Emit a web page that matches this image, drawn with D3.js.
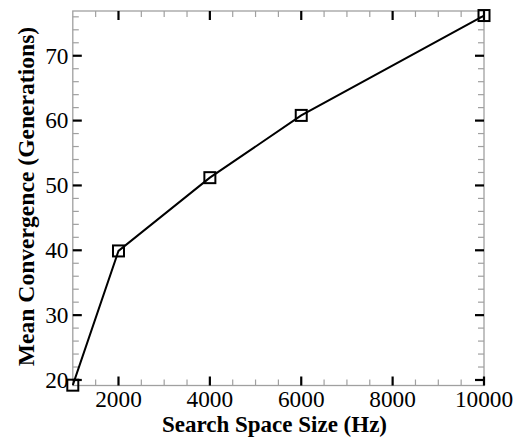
<!DOCTYPE html>
<html>
<head>
<meta charset="utf-8">
<script src="https://cdn.jsdelivr.net/npm/d3@7"></script>
<style>
  html, body { margin: 0; padding: 0; background: #fff; }
  svg { display: block; }
  text { font-family: "Liberation Serif", "Times New Roman", serif; fill: #000; }
</style>
</head>
<body>
<svg id="chart" width="515" height="438"></svg>
<script>
// Search space size (Hz) vs. mean generations to converge
const sizes = [1000, 2000, 4000, 6000, 10000];
const meanGenerations = [19.2, 39.9, 51.2, 60.8, 76.2];
const xTickValues = [2000, 4000, 6000, 8000, 10000];
const yTickValues = [20, 30, 40, 50, 60, 70];
const xLabel = "Search Space Size (Hz)";
const yLabel = "Mean Convergence (Generations)";

const svg = d3.select("#chart");
const plotL = 72.8, plotR = 484, plotT = 11, plotB = 385.5;

const x = d3.scaleLinear().domain([1000, 10000]).range([plotL, plotR]);
const y = d3.scaleLinear().domain([19.15, 76.9]).range([plotB, plotT]);

const frameColor = "#a0a0a0";
const minorColor = "#a0a0a0";

// minor ticks
const xMinor = d3.range(1500, 10000, 500).filter(v => v % 2000 !== 0);
const yMinor = d3.range(20, 77, 2).filter(v => v % 10 !== 0);
const minorLen = 6, majorLen = 9;

const g = svg.append("g");

// plot frame
g.append("rect")
  .attr("x", plotL).attr("y", plotT)
  .attr("width", plotR - plotL).attr("height", plotB - plotT)
  .attr("fill", "none").attr("stroke", frameColor).attr("stroke-width", 1.3);

// ticks on all four sides, pointing inward
function tickLinesX(vals, len, color, w) {
  vals.forEach(v => {
    const xv = x(v);
    g.append("line").attr("x1", xv).attr("x2", xv).attr("y1", plotB).attr("y2", plotB - len)
      .attr("stroke", color).attr("stroke-width", w);
    g.append("line").attr("x1", xv).attr("x2", xv).attr("y1", plotT).attr("y2", plotT + len)
      .attr("stroke", color).attr("stroke-width", w);
  });
}
function tickLinesY(vals, len, color, w) {
  vals.forEach(v => {
    const yv = y(v);
    g.append("line").attr("y1", yv).attr("y2", yv).attr("x1", plotL).attr("x2", plotL + len)
      .attr("stroke", color).attr("stroke-width", w);
    g.append("line").attr("y1", yv).attr("y2", yv).attr("x1", plotR).attr("x2", plotR - len)
      .attr("stroke", color).attr("stroke-width", w);
  });
}
tickLinesX(xMinor, minorLen, minorColor, 1.2);
tickLinesY(yMinor, minorLen, minorColor, 1.2);
tickLinesX(xTickValues, majorLen, "#000", 2.2);
tickLinesY(yTickValues, majorLen, "#000", 2.2);

// tick labels
g.selectAll(".xl").data(xTickValues).enter().append("text")
  .attr("x", d => x(d)).attr("y", 407)
  .attr("text-anchor", "middle").attr("font-size", 23.3)
  .text(d => d);
g.selectAll(".yl").data(yTickValues).enter().append("text")
  .attr("x", 68.5).attr("y", d => y(d) + 7.8)
  .attr("text-anchor", "end").attr("font-size", 23.3)
  .text(d => d);

// axis titles
svg.append("text")
  .attr("x", 274.5).attr("y", 432)
  .attr("text-anchor", "middle").attr("font-size", 23).attr("font-weight", "bold")
  .text(xLabel);
svg.append("text")
  .attr("transform", "translate(33.5,196.5) rotate(-90)")
  .attr("text-anchor", "middle").attr("font-size", 23.6).attr("font-weight", "bold")
  .text(yLabel);

// data line and square markers
const pts = sizes.map((s, i) => [s, meanGenerations[i]]);
svg.append("path")
  .datum(pts)
  .attr("d", d3.line().x(d => x(d[0])).y(d => y(d[1])))
  .attr("fill", "none").attr("stroke", "#000").attr("stroke-width", 2);

const ms = 11;
svg.selectAll(".mk").data(pts).enter().append("rect")
  .attr("x", d => x(d[0]) - ms / 2).attr("y", d => y(d[1]) - ms / 2)
  .attr("width", ms).attr("height", ms)
  .attr("fill", "none").attr("stroke", "#000").attr("stroke-width", 2);
</script>
</body>
</html>
